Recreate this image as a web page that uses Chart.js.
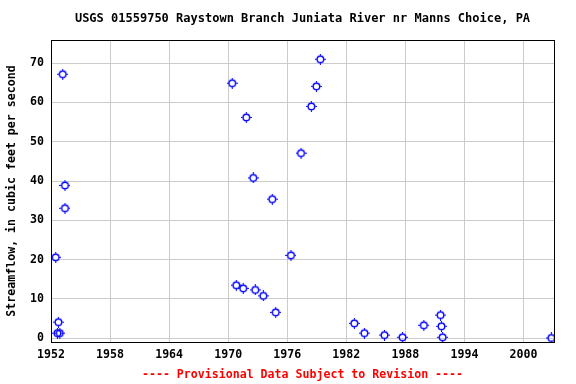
<!DOCTYPE html>
<html>
<head>
<meta charset="utf-8">
<script src="https://cdn.jsdelivr.net/npm/chart.js@4/dist/chart.umd.min.js"></script>
<style>
  body { margin: 0; background: #fff; }
</style>
</head>
<body>
<canvas id="flowChart" width="576" height="384"></canvas>
<script>
// peak streamflow samples
const years = [1952.48, 1952.65, 1952.75, 1952.89, 1953.19, 1953.42, 1953.42,
  1970.41, 1970.82, 1971.53, 1971.84, 1972.55, 1972.75, 1973.57, 1974.48, 1974.83,
  1976.38, 1977.40, 1978.45, 1978.96, 1979.36,
  1982.82, 1983.84, 1985.88, 1987.71, 1989.88, 1991.57, 1991.67, 1991.78, 2002.83];
const flows = [20.6, 1.3, 4.1, 1.3, 67.2, 38.9, 33.1,
  64.9, 13.5, 12.7, 56.2, 40.8, 12.3, 10.8, 35.4, 6.6,
  21.1, 47.1, 59.0, 64.1, 71.0,
  3.8, 1.3, 0.8, 0.25, 3.3, 5.9, 3.05, 0.25, 0.08];
const xTicks = [1952, 1958, 1964, 1970, 1976, 1982, 1988, 1994, 2000];
const yTicks = [0, 10, 20, 30, 40, 50, 60, 70];

const titleText = 'USGS 01559750 Raystown Branch Juniata River nr Manns Choice, PA';
const footText = '---- Provisional Data Subject to Revision ----';

const monoFont = "'DejaVu Sans Mono', 'Liberation Mono', monospace";

function makeMarker(){
    const c = document.createElement('canvas');
    c.width = 11; c.height = 11;
    const g = c.getContext('2d');
    g.strokeStyle = '#0000ff';
    g.lineWidth = 1.4;
    g.beginPath();
    g.arc(5.5, 5.5, 3.3, 0, Math.PI * 2);
    g.stroke();
    g.lineWidth = 1;
    g.beginPath();
    g.moveTo(5.5, 0); g.lineTo(5.5, 1.8);
    g.moveTo(5.5, 9.2); g.lineTo(5.5, 11);
    g.moveTo(0, 5.5); g.lineTo(1.8, 5.5);
    g.moveTo(9.2, 5.5); g.lineTo(11, 5.5);
    g.stroke();
    return c;
}

// frame round the plot plus title and footer centred on the plot area
const frame = {
    id: 'frame',
    afterDraw(chart){
        const a = chart.chartArea;
        const ctx = chart.ctx;
        ctx.save();
        ctx.strokeStyle = '#000';
        ctx.lineWidth = 1;
        ctx.strokeRect(Math.round(a.left) + 0.5, Math.round(a.top) + 0.5,
            Math.round(a.right - a.left), Math.round(a.bottom - a.top));
        const cx = (a.left + a.right) / 2;
        ctx.textAlign = 'center';
        ctx.textBaseline = 'middle';
        ctx.fillStyle = '#000';
        ctx.font = 'bold 12px ' + monoFont;
        ctx.fillText(titleText, cx, 19);
        ctx.fillStyle = '#ff0000';
        ctx.font = 'bold 11.6px ' + monoFont;
        ctx.fillText(footText, cx, 375);
        ctx.restore();
    }
};

const points = years.map((y, i) => ({x: y, y: flows[i]}));

new Chart(document.getElementById('flowChart').getContext('2d'), {
    type: 'scatter',
    data: {
        datasets: [{
            data: points,
            pointStyle: makeMarker(),
            pointRadius: 5
        }]
    },
    options: {
        responsive: false,
        animation: false,
        layout: { padding: { left: 0, right: 22, top: 40, bottom: 22 } },
        plugins: {
            legend: { display: false },
            tooltip: { enabled: false }
        },
        scales: {
            x: {
                type: 'linear',
                min: 1952,
                max: 2003.1,
                afterBuildTicks: s => { s.ticks = xTicks.map(v => ({value: v})); },
                afterFit: s => { s.height = 20; },
                ticks: {
                    color: '#000',
                    font: { family: monoFont, size: 11.6, weight: 'bold' },
                    padding: 6,
                    maxRotation: 0,
                    callback: v => String(v)
                },
                grid: { color: '#cccccc', drawTicks: false },
                border: { display: false }
            },
            y: {
                min: -0.95,
                max: 75.9,
                afterBuildTicks: s => { s.ticks = yTicks.map(v => ({value: v})); },
                afterFit: s => { s.width = 51; },
                ticks: {
                    color: '#000',
                    font: { family: monoFont, size: 11.6, weight: 'bold' },
                    padding: 7
                },
                grid: { color: '#cccccc', drawTicks: false },
                border: { display: false },
                title: {
                    display: true,
                    text: 'Streamflow, in cubic feet per second',
                    color: '#000',
                    font: { family: monoFont, size: 11.6, weight: 'bold' },
                    padding: { top: 5, bottom: 0 }
                }
            }
        }
    },
    plugins: [frame]
});
</script>
</body>
</html>
